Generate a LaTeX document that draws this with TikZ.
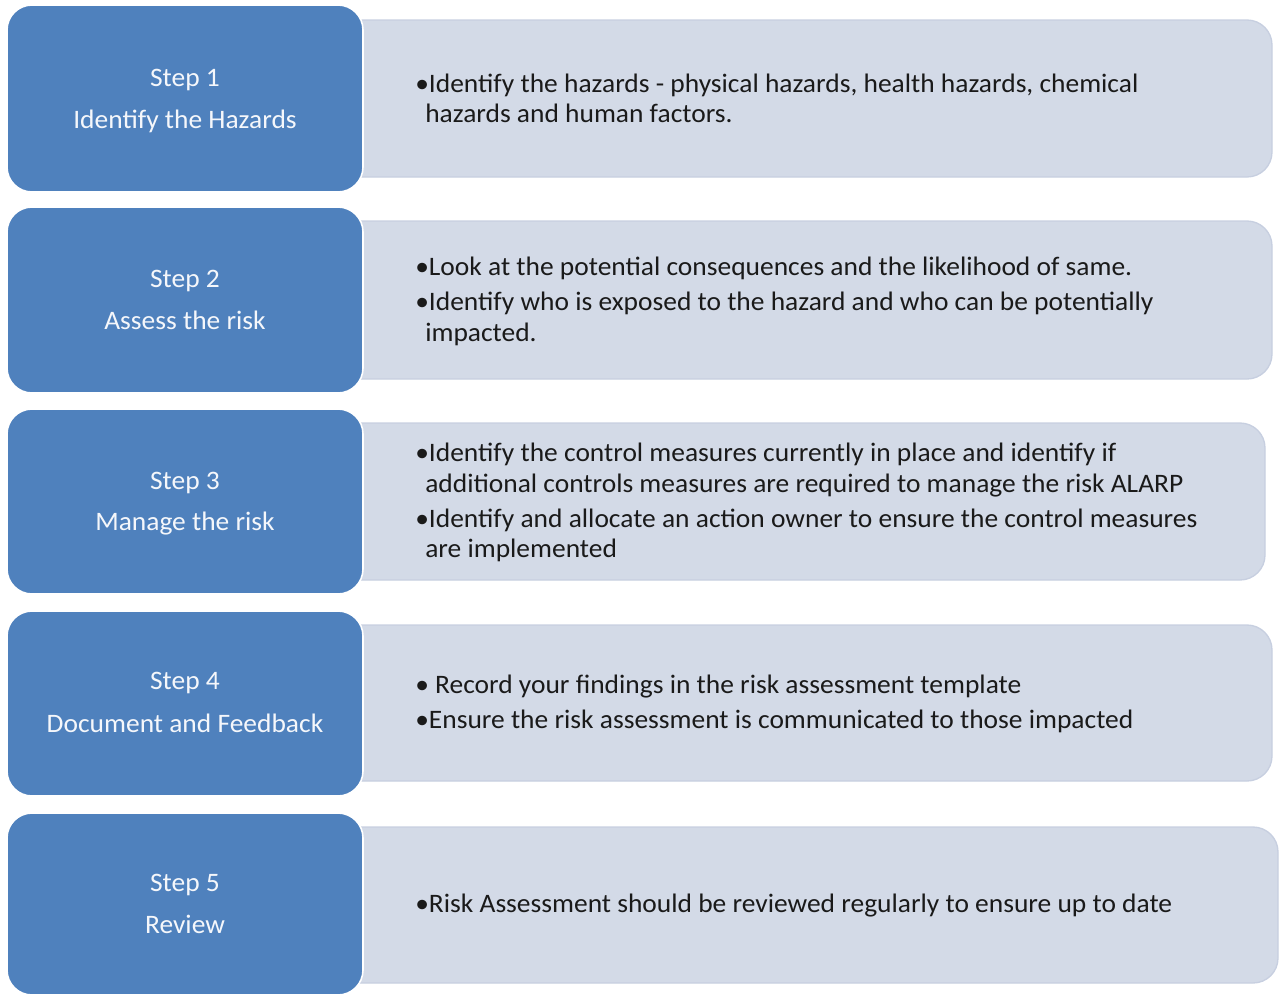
\documentclass[tikz,border=0pt]{standalone}
\usepackage{fontspec}
\setmainfont{Carlito}[FakeStretch=1.03]
\definecolor{stepblue}{HTML}{4F81BD}
\definecolor{panel}{HTML}{D3DAE7}
\definecolor{panelrim}{HTML}{C7CFE0}
\definecolor{ink}{HTML}{1A1A1A}
\begin{document}
\begin{tikzpicture}[x=0.75pt,y=-0.75pt,
  stepbox/.style={fill=stepblue, draw=white, line width=1.2pt, rounded corners=18.75pt},
  panelbox/.style={fill=panel, draw=panelrim, line width=1pt, rounded corners=18.75pt},
  steptext/.style={text=white!94!stepblue, font=\fontsize{20}{24}\selectfont, anchor=base, inner sep=0pt},
  bodytext/.style={text=ink, font=\fontsize{20}{24}\selectfont, anchor=base west, inner sep=0pt}]
\useasboundingbox (0,0) rectangle (1280,996);
% panels
\path[panelbox] (330,20) rectangle (1272,177);
\path[panelbox] (330,221) rectangle (1272,379);
\path[panelbox] (330,423) rectangle (1265,580);
\path[panelbox] (330,625) rectangle (1272,781);
\path[panelbox] (330,827) rectangle (1278,983);
% step boxes
\path[stepbox] (7,5) rectangle (363,192);
\path[stepbox] (7,207) rectangle (363,393);
\path[stepbox] (7,409) rectangle (363,594);
\path[stepbox] (7,611) rectangle (363,796);
\path[stepbox] (7,813) rectangle (363,995);
% step labels
\node[steptext] (s1a) at (185,86) {Step 1};
\node[steptext] (s1b) at (185,128) {Identify the Hazards};
\node[steptext] (s2a) at (185,287) {Step 2};
\node[steptext] (s2b) at (185,329) {Assess the risk};
\node[steptext] (s3a) at (185,489) {Step 3};
\node[steptext] (s3b) at (185,530) {Manage the risk};
\node[steptext] (s4a) at (185,689) {Step 4};
\node[steptext] (s4b) at (185,732) {Document and Feedback};
\node[steptext] (s5a) at (185,891) {Step 5};
\node[steptext] (s5b) at (185,933) {Review};
% body text
\node[bodytext] (b1a) at (415,92) {•Identify the hazards - physical hazards, health hazards, chemical};
\node[bodytext] (b1b) at (425,122) {hazards and human factors.};
\node[bodytext] (b2a) at (415,275) {•Look at the potential consequences and the likelihood of same.};
\node[bodytext] (b2b) at (415,310) {•Identify who is exposed to the hazard and who can be potentially};
\node[bodytext] (b2c) at (425,341) {impacted.};
\node[bodytext] (b3a) at (415,461) {•Identify the control measures currently in place and identify if};
\node[bodytext] (b3b) at (425,492) {additional controls measures are required to manage the risk ALARP};
\node[bodytext] (b3c) at (415,527) {•Identify and allocate an action owner to ensure the control measures};
\node[bodytext] (b3d) at (425,557) {are implemented};
\node[bodytext] (b4a) at (415,693) {• Record your findings in the risk assessment template};
\node[bodytext] (b4b) at (415,728) {•Ensure the risk assessment is communicated to those impacted};
\node[bodytext] (b5a) at (415,912) {•Risk Assessment should be reviewed regularly to ensure up to date};
\end{tikzpicture}
\end{document}
